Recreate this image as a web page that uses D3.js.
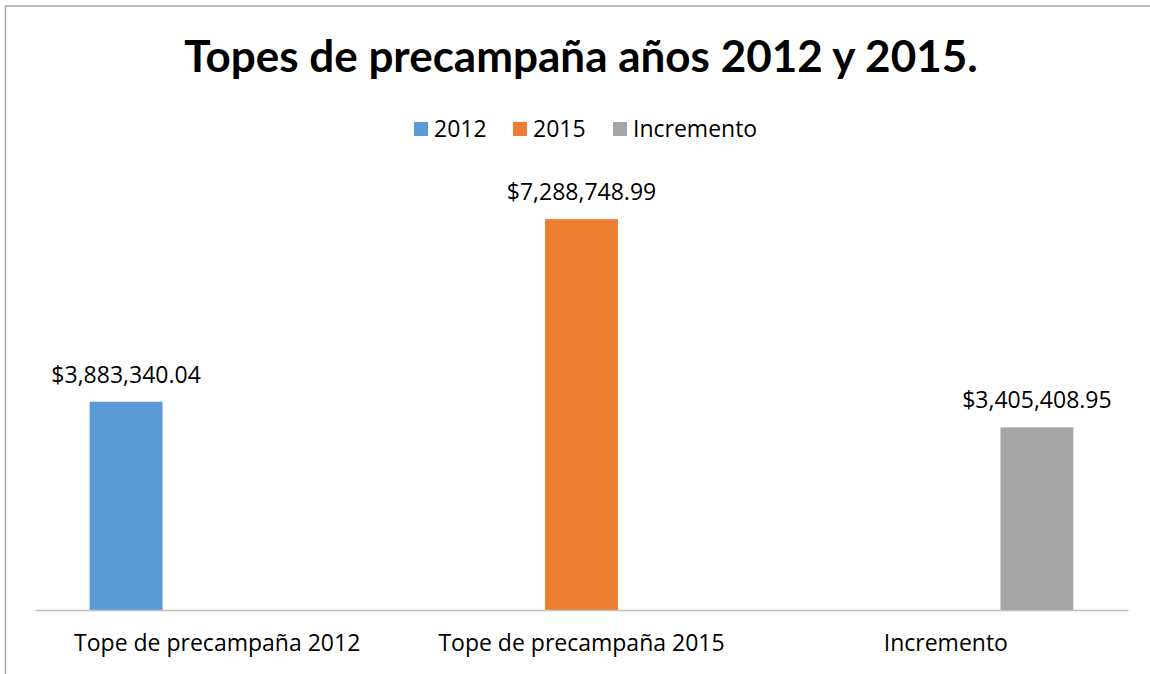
<!DOCTYPE html>
<html>
<head>
<meta charset="utf-8">
<script src="https://cdnjs.cloudflare.com/ajax/libs/d3/7.8.5/d3.min.js"></script>
<style>
  body { margin: 0; background: #fff; }
  text { font-family: "Open Sans", Lato, sans-serif; }
</style>
</head>
<body>
<div id="chart"></div>
<script>
// chart data
const categories = ["Tope de precampaña 2012", "Tope de precampaña 2015", "Incremento"];
const seriesNames = ["2012", "2015", "Incremento"];
const seriesColors = ["#5b9bd5", "#ed7d31", "#a5a5a5"];
// one row per category, one value per series (empty slots are null)
const values2012 = [3883340.04, null, null];
const values2015 = [null, 7288748.99, null];
const valuesIncremento = [null, null, 3405408.95];
const titleText = "Topes de precampaña años 2012 y 2015.";

const width = 1150, height = 674;
const margin = { top: 181, right: 22, bottom: 64, left: 35 };
const labelFont = "23px";

const svg = d3.select("#chart")
  .append("svg")
  .attr("width", width)
  .attr("height", height);

// chart border
svg.append("rect")
  .attr("x", 5.5)
  .attr("y", 6)
  .attr("width", width + 10)
  .attr("height", height + 10)
  .attr("fill", "#fff")
  .attr("stroke", "#a6a6a6")
  .attr("stroke-width", 1.5);

const allSeries = [values2012, values2015, valuesIncremento];
const rows = categories.map((c, i) => ({
  cat: c,
  vals: seriesNames.map((s, j) => ({ key: s, idx: j, value: allSeries[j][i] }))
}));

const x0 = d3.scaleBand()
  .domain(categories)
  .range([margin.left, width - margin.right])
  .padding(0);

const x1 = d3.scaleBand()
  .domain(seriesNames)
  .range([0, x0.bandwidth()])
  .paddingInner(0.2)
  .paddingOuter(0.6);

const y = d3.scaleLinear()
  .domain([0, 8000000])
  .range([height - margin.bottom, margin.top]);

// title
svg.append("text")
  .attr("x", width / 2 + 6)
  .attr("y", 72)
  .attr("text-anchor", "middle")
  .attr("font-size", "44px")
  .attr("font-weight", "700")
  .attr("fill", "#000")
  .style("font-family", "Lato, 'Open Sans', sans-serif")
  .text(titleText);

// legend
const legendX = [414, 513, 613];
const legend = svg.append("g").attr("class", "legend");
seriesNames.forEach((s, i) => {
  legend.append("rect")
    .attr("x", legendX[i])
    .attr("y", 122)
    .attr("width", 14)
    .attr("height", 14)
    .attr("fill", seriesColors[i]);
  legend.append("text")
    .attr("x", legendX[i] + 20)
    .attr("y", 137)
    .attr("font-size", labelFont)
    .attr("fill", "#000")
    .text(s);
});

// bars
const groups = svg.append("g")
  .selectAll("g")
  .data(rows)
  .enter()
  .append("g")
  .attr("transform", d => `translate(${x0(d.cat)},0)`);

const fmt = d3.format("$,.2f");

groups.selectAll("rect")
  .data(d => d.vals.filter(v => v.value != null))
  .enter()
  .append("rect")
  .attr("x", d => x1(d.key))
  .attr("y", d => y(d.value))
  .attr("width", x1.bandwidth())
  .attr("height", d => y(0) - y(d.value))
  .attr("fill", d => seriesColors[d.idx]);

groups.selectAll("text.label")
  .data(d => d.vals.filter(v => v.value != null))
  .enter()
  .append("text")
  .attr("class", "label")
  .attr("x", d => x1(d.key) + x1.bandwidth() / 2)
  .attr("y", d => y(d.value) - 19)
  .attr("text-anchor", "middle")
  .attr("font-size", labelFont)
  .attr("fill", "#000")
  .text(d => fmt(d.value));

// x axis
const xAxis = svg.append("g")
  .attr("transform", `translate(0,${y(0)})`)
  .call(d3.axisBottom(x0).tickSize(0).tickPadding(25));

xAxis.select(".domain")
  .attr("stroke", "#bfbfbf")
  .attr("stroke-width", 1.5);

xAxis.selectAll("text")
  .attr("font-size", labelFont)
  .attr("fill", "#000")
  .style("font-family", "'Open Sans', Lato, sans-serif");
</script>
</body>
</html>
